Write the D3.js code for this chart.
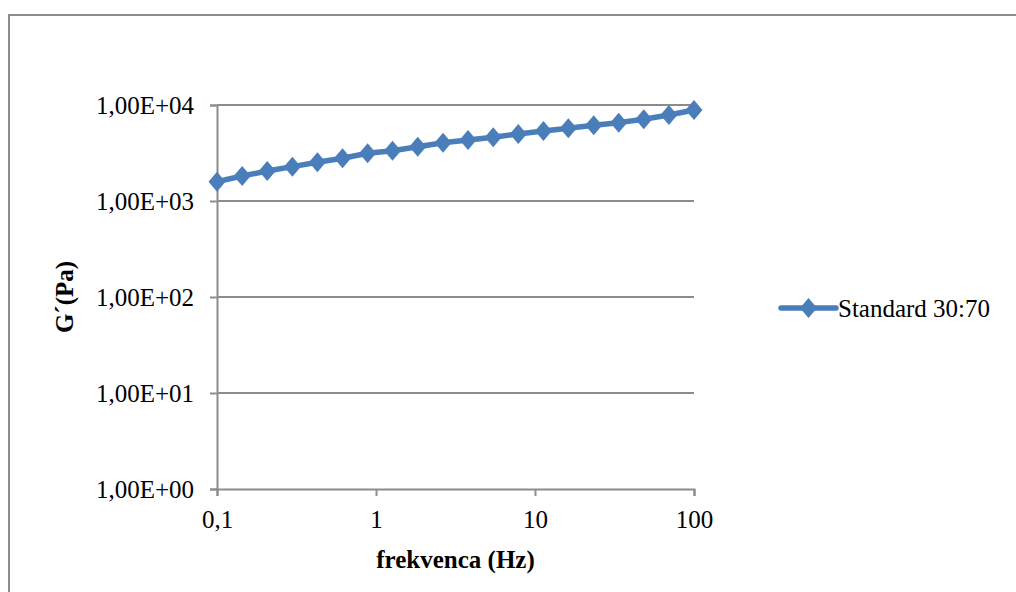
<!DOCTYPE html>
<html>
<head>
<meta charset="utf-8">
<script src="https://cdn.jsdelivr.net/npm/d3@7"></script>
<style>
  body { margin: 0; background: #fff; }
  svg { display: block; }
  svg text { font-family: 'Liberation Serif', 'Times New Roman', serif !important; }
</style>
</head>
<body>
<svg id="chart" width="1016" height="592"></svg>
<script>
// Frequency (Hz) and storage modulus G' (Pa)
const freq = [0.1, 0.144, 0.207, 0.298, 0.428, 0.616, 0.886, 1.27, 1.83, 2.64,
  3.79, 5.46, 7.85, 11.3, 16.2, 23.4, 33.6, 48.3, 69.5, 100];
const gPrime = [1590, 1820, 2050, 2280, 2530, 2790, 3140, 3340, 3680, 4040,
  4320, 4610, 4990, 5360, 5720, 6150, 6550, 7100, 7870, 8870];

const xTicks = [0.1, 1, 10, 100];
const xTickLabels = ["0,1", "1", "10", "100"];
const yTicks = [1, 10, 100, 1000, 10000];
const yTickLabels = ["1,00E+00", "1,00E+01", "1,00E+02", "1,00E+03", "1,00E+04"];

const seriesName = "Standard 30:70";
const xTitle = "frekvenca (Hz)";
const yTitle = "G´(Pa)";

const BLUE = "#4a7ebb";
const GRID = "#8c8c8c";

// Plot area
const PLOT_LEFT = 217, PLOT_RIGHT = 694, PLOT_TOP = 105, PLOT_BOTTOM = 489;

const svg = d3.select("#chart");

// Outer chart border (runs off the right and bottom of the picture)
svg.append("path")
  .attr("d", "M9,1016 V15 H1016")
  .attr("fill", "none")
  .attr("stroke", GRID)
  .attr("stroke-width", 2);

const x = d3.scaleLog().domain([0.1, 100]).range([PLOT_LEFT, PLOT_RIGHT]);
const y = d3.scaleLog().domain([1, 10000]).range([PLOT_BOTTOM, PLOT_TOP]);

// Horizontal gridlines
svg.append("g")
  .selectAll("line")
  .data(yTicks.slice(1))
  .join("line")
  .attr("x1", PLOT_LEFT)
  .attr("x2", PLOT_RIGHT)
  .attr("y1", (d) => y(d))
  .attr("y2", (d) => y(d))
  .attr("stroke", GRID)
  .attr("stroke-width", 2);

// Y axis
const yAxis = svg.append("g")
  .attr("transform", `translate(${PLOT_LEFT},0)`)
  .call(d3.axisLeft(y).tickValues(yTicks)
    .tickFormat((d, i) => yTickLabels[i]).tickSize(7).tickPadding(16));
yAxis.select(".domain").attr("stroke", GRID).attr("stroke-width", 2);
yAxis.selectAll(".tick line").attr("stroke", GRID).attr("stroke-width", 2);
yAxis.selectAll(".tick text")
  .attr("font-size", 25)
  .attr("fill", "#000");

// X axis
const xAxis = svg.append("g")
  .attr("transform", `translate(0,${PLOT_BOTTOM})`)
  .call(d3.axisBottom(x).tickValues(xTicks)
    .tickFormat((d, i) => xTickLabels[i]).tickSize(7).tickPadding(14));
xAxis.select(".domain").attr("stroke", GRID).attr("stroke-width", 2);
xAxis.selectAll(".tick line").attr("stroke", GRID).attr("stroke-width", 2);
xAxis.selectAll(".tick text")
  .attr("font-size", 25)
  .attr("fill", "#000");

// Axis titles
svg.append("text")
  .attr("x", (PLOT_LEFT + PLOT_RIGHT) / 2)
  .attr("y", 568)
  .attr("text-anchor", "middle")
  .attr("font-size", 25)
  .attr("font-weight", "bold")
  .text(xTitle);

svg.append("text")
  .attr("transform", `translate(73,${(PLOT_TOP + PLOT_BOTTOM) / 2}) rotate(-90)`)
  .attr("text-anchor", "middle")
  .attr("font-size", 25)
  .attr("font-weight", "bold")
  .text(yTitle);

// Series line + diamond markers
const points = freq.map((f, i) => ({ f, g: gPrime[i] }));
const diamond = (cx, cy) =>
  `M${cx},${cy - 10} L${cx + 8.5},${cy} L${cx},${cy + 10} L${cx - 8.5},${cy} Z`;

svg.append("path")
  .datum(points)
  .attr("fill", "none")
  .attr("stroke", BLUE)
  .attr("stroke-width", 5.5)
  .attr("stroke-linejoin", "round")
  .attr("d", d3.line().x((d) => x(d.f)).y((d) => y(d.g)));

svg.append("g")
  .selectAll("path")
  .data(points)
  .join("path")
  .attr("d", (d) => diamond(x(d.f), y(d.g)))
  .attr("fill", BLUE);

// Legend
const lg = svg.append("g").attr("transform", "translate(781,308)");
lg.append("line")
  .attr("x1", 0).attr("x2", 55)
  .attr("stroke", BLUE).attr("stroke-width", 5.5).attr("stroke-linecap", "round");
lg.append("path").attr("d", diamond(27.5, 0)).attr("fill", BLUE);
lg.append("text")
  .attr("x", 57)
  .attr("y", 9)
  .attr("font-size", 25)
  .attr("fill", "#000")
  .text(seriesName);
</script>
</body>
</html>
